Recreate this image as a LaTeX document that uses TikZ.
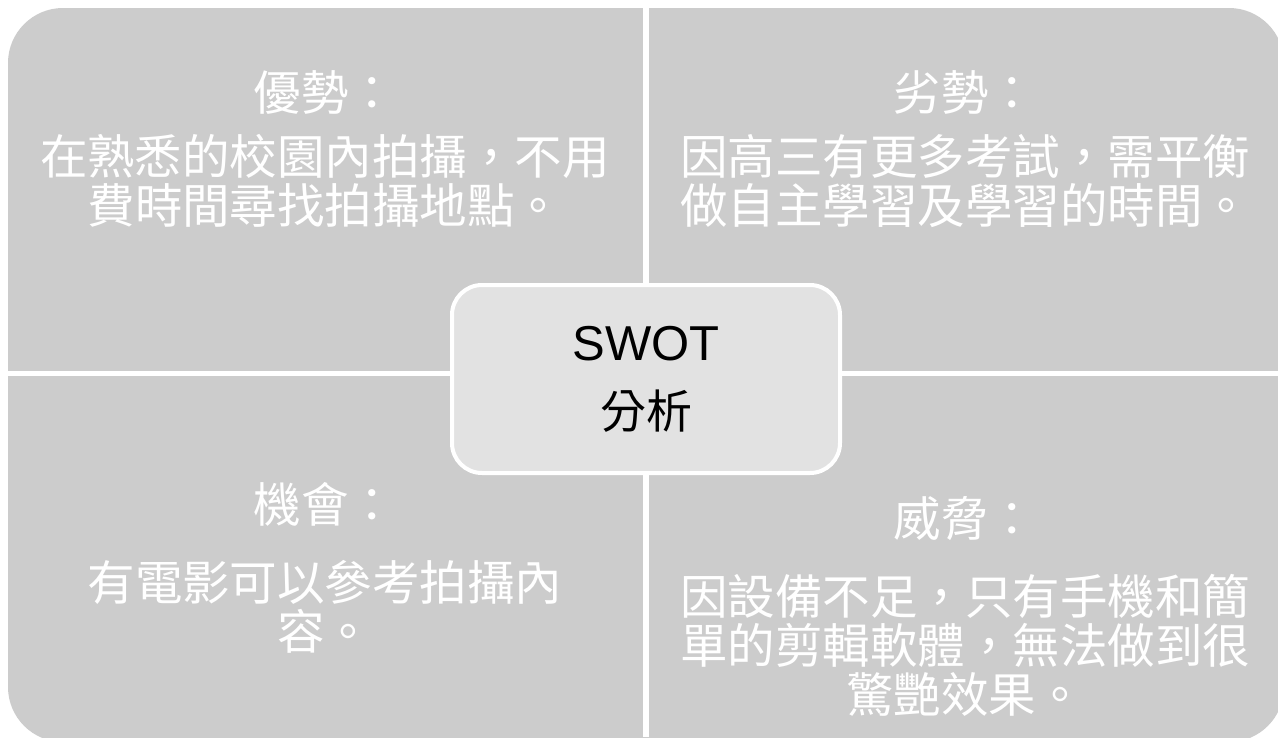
\documentclass[tikz,border=0pt]{standalone}
\usepackage{fontspec}
\setmainfont{Liberation Sans}
\newfontfamily\cjk{Noto Sans CJK TC}
\definecolor{quad}{HTML}{CCCCCC}
\definecolor{centerfill}{HTML}{E2E2E2}
\begin{document}
\begin{tikzpicture}[x=1pt,y=-1pt,
  qtitle/.style={text=white,font=\cjk\fontsize{47.5}{49}\selectfont,inner sep=0pt,anchor=center},
  qbody/.style={text=white,font=\cjk\fontsize{47.5}{49}\selectfont,inner sep=0pt,align=center,anchor=center},
  hub/.style={fill=centerfill,draw=white,line width=4pt,rounded corners=30pt,
    minimum width=388pt,minimum height=188pt,inner sep=0pt,align=center,
    font=\fontsize{49}{68}\selectfont}]
\useasboundingbox (0,0) rectangle (1278,737);
\clip (0,0) rectangle (1278,737);
\fill[white] (0,0) rectangle (1278,737);
% quadrants
\fill[quad,rounded corners=55pt] (8,8) rectangle (1284,742);
\fill[white] (643,0) rectangle (649,737);
\fill[white] (0,371) rectangle (1278,376);
% texts
\node[qtitle] (stitle) at (325,92) {優勢：};
\node[qbody] (sbody) at (325,181) {在熟悉的校園內拍攝，不用\\費時間尋找拍攝地點。};
\node[qtitle] (wtitle) at (965,92) {劣勢：};
\node[qbody] (wbody) at (965,181) {因高三有更多考試，需平衡\\做自主學習及學習的時間。};
\node[qtitle] (otitle) at (325,504) {機會：};
\node[qbody] (obody) at (325,607) {有電影可以參考拍攝內\\容。};
\node[qtitle] (ttitle) at (965,519) {威脅：};
\node[qbody] (tbody) at (965,645) {因設備不足，只有手機和簡\\單的剪輯軟體，無法做到很\\驚艷效果。};
% center
\node[hub] (hub) at (646,379) {SWOT\\{\cjk\fontsize{46}{68}\selectfont 分析}};
\end{tikzpicture}
\end{document}
